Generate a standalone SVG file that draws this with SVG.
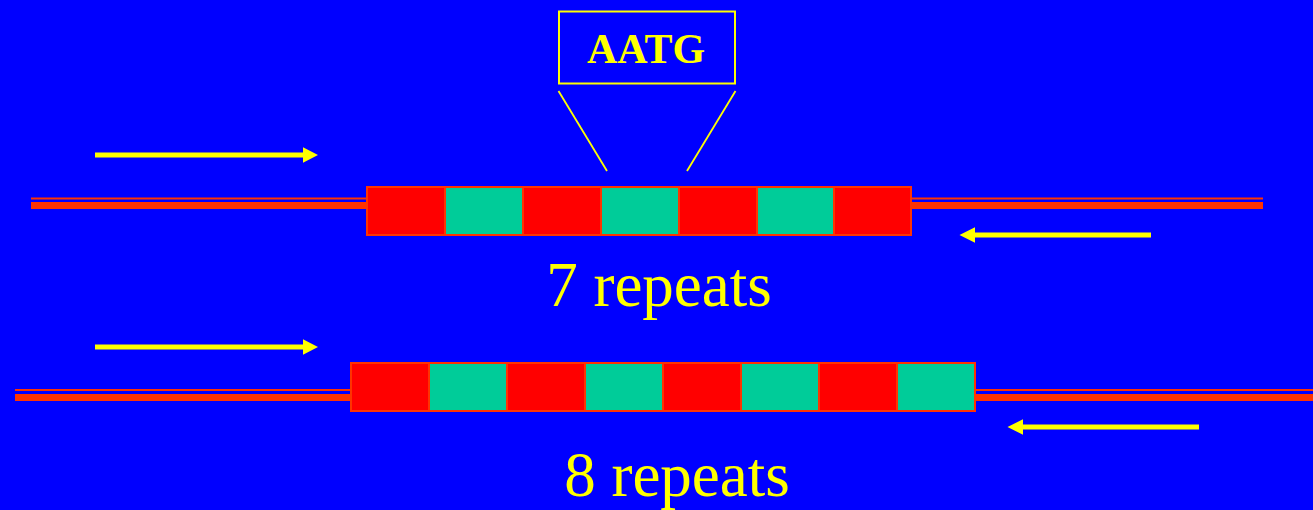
<svg xmlns="http://www.w3.org/2000/svg" width="1313" height="510" viewBox="0 0 1313 510">
<defs>
<style>
.thin{stroke:#FF3300;stroke-width:2}
.thick{stroke:#FF3300;stroke-width:7}
.r{fill:#FF0000;stroke:#FF3300;stroke-width:2}
.g{fill:#00CC99;stroke:#FF3300;stroke-width:2}
.arr{stroke:#FFFF00;stroke-width:5}
.head{fill:#FFFF00}
.lbl{font-family:"Liberation Serif","Times New Roman",serif;fill:#FFFF00;text-anchor:middle}
</style>
</defs>
<rect x="0" y="0" width="1313" height="510" fill="#0000FF"/>
<g id="connectors">
<line class="thin" x1="31" y1="198.5" x2="367" y2="198.5"/>
<line class="thick" x1="31" y1="205.5" x2="367" y2="205.5"/>
<line class="thin" x1="911" y1="198.5" x2="1263" y2="198.5"/>
<line class="thick" x1="911" y1="205.5" x2="1263" y2="205.5"/>
<line class="thin" x1="15" y1="390" x2="351" y2="390"/>
<line class="thick" x1="15" y1="397.5" x2="351" y2="397.5"/>
<line class="thin" x1="975" y1="390" x2="1313" y2="390"/>
<line class="thick" x1="975" y1="397.5" x2="1313" y2="397.5"/>
<line x1="558.5" y1="91" x2="607" y2="171" stroke="#FFFF00" stroke-width="1.8"/>
<line x1="735.5" y1="91" x2="687" y2="171" stroke="#FFFF00" stroke-width="1.8"/>
<line class="arr" x1="95" y1="155" x2="305" y2="155"/>
<polygon class="head" points="303,147.3 318,155 303,162.7"/>
<line class="arr" x1="1151" y1="235" x2="973" y2="235"/>
<polygon class="head" points="975,227.3 959.5,235 975,242.7"/>
<line class="arr" x1="95" y1="347" x2="305" y2="347"/>
<polygon class="head" points="303,339.3 318,347 303,354.7"/>
<line class="arr" x1="1199" y1="427" x2="1021" y2="427"/>
<polygon class="head" points="1023,419.3 1007.5,427 1023,434.7"/>
</g>
<g id="repeat7">
<rect class="r" x="367" y="187" width="78" height="48"/>
<rect class="g" x="445" y="187" width="78" height="48"/>
<rect class="r" x="523" y="187" width="78" height="48"/>
<rect class="g" x="601" y="187" width="78" height="48"/>
<rect class="r" x="679" y="187" width="78" height="48"/>
<rect class="g" x="757" y="187" width="77" height="48"/>
<rect class="r" x="834" y="187" width="77" height="48"/>
</g>
<g id="repeat8">
<rect class="r" x="351" y="363" width="78" height="48"/>
<rect class="g" x="429" y="363" width="78" height="48"/>
<rect class="r" x="507" y="363" width="78" height="48"/>
<rect class="g" x="585" y="363" width="78" height="48"/>
<rect class="r" x="663" y="363" width="78" height="48"/>
<rect class="g" x="741" y="363" width="78" height="48"/>
<rect class="r" x="819" y="363" width="78" height="48"/>
<rect class="g" x="897" y="363" width="78" height="48"/>
</g>
<g id="aatg">
<rect x="559" y="11.5" width="176" height="72" fill="none" stroke="#FFFF00" stroke-width="2"/>
<text class="lbl" x="646" y="62.5" font-size="42" font-weight="bold">AATG</text>
</g>
<g id="label7">
<text class="lbl" x="659" y="306" font-size="63">7 repeats</text>
</g>
<g id="label8">
<text class="lbl" x="677" y="496" font-size="63">8 repeats</text>
</g>
</svg>
